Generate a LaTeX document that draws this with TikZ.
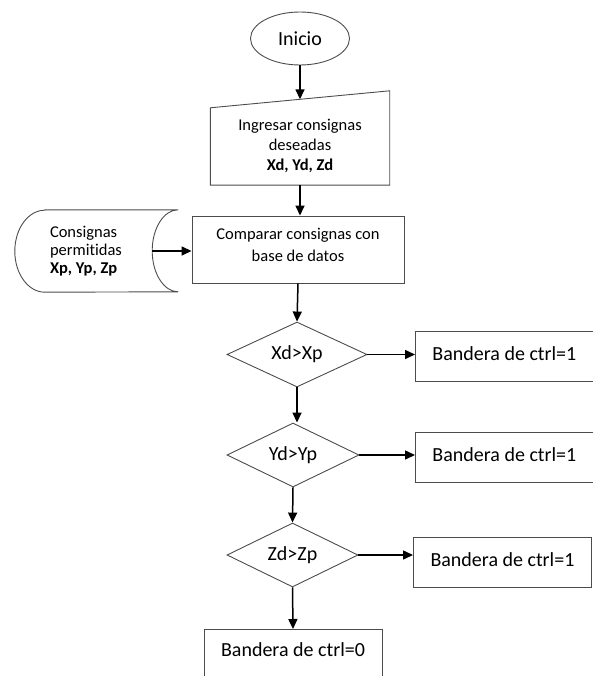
\documentclass[tikz,border=0pt]{standalone}
\usepackage{fontspec}
\setmainfont{Carlito}[Ligatures=NoCommon]
\usetikzlibrary{shapes.geometric,arrows.meta}

\begin{document}
\begin{tikzpicture}[
    x=1pt, y=-1pt,
    outline/.style={draw=black!70, line width=0.9pt},
    process/.style={rectangle, outline, inner sep=0pt, align=center, font=\fontsize{16.5}{22.5}\selectfont},
    decision/.style={diamond, outline, inner sep=0pt, aspect=2.2, font=\fontsize{20}{24}\selectfont},
    flag/.style={rectangle, outline, minimum height=50pt, text height=14pt, text depth=6pt, font=\fontsize{20}{24}\selectfont},
    arrow/.style={-{Triangle[length=10pt,width=9pt]}, line width=1.5pt}
]
\useasboundingbox (0,0) rectangle (592,676);

% Inicio
\node[ellipse, outline, minimum width=99pt, minimum height=53pt, inner sep=0pt, font=\fontsize{20}{24}\selectfont] (inicio) at (300,38.5) {Inicio};

% Entrada manual de consignas
\node[minimum width=179pt, minimum height=78pt, inner sep=0pt, align=center, font=\fontsize{16.5}{20.3}\selectfont] (ingreso) at (300,146) {Ingresar consignas\\deseadas\\\textbf{Xd, Yd, Zd}};
\draw[outline] (ingreso.south west) -- (ingreso.south east) -- ([yshift=16pt]ingreso.north east) -- ([yshift=-1pt]ingreso.north west) -- cycle;

% Base de datos (consignas permitidas)
\node[minimum width=163pt, minimum height=82pt, inner xsep=35pt, inner ysep=0pt, text width=93pt, align=flush left, font=\fontsize{16.5}{18.3}\selectfont] (permitidas) at (96.5,251) {Consignas\\permitidas\\\textbf{Xp, Yp, Zp}};
\draw[outline] ([xshift=30pt]permitidas.north west) -- (permitidas.north east)
    arc[start angle=90, end angle=270, x radius=26pt, y radius=41pt]
    -- ([xshift=30pt]permitidas.south west)
    arc[start angle=270, end angle=90, x radius=30pt, y radius=41pt] -- cycle;

% Comparacion
\node[process, minimum width=212pt, minimum height=67pt, text height=35pt, text depth=10.6pt] (comparar) at (298,249.5) {Comparar consignas con\\base de datos};

% Decisiones
\node[decision, minimum width=140pt, minimum height=65pt] (dx) at (297,354.5) {Xd>Xp};
\node[decision, minimum width=132pt, minimum height=64pt] (dy) at (293,455) {Yd>Yp};
\node[decision, minimum width=131pt, minimum height=64pt] (dz) at (292.5,555) {Zd>Zp};

% Banderas
\node[flag, anchor=west, text width=156pt, inner xsep=17pt, align=flush left] (bx) at (415,356) {Bandera de ctrl=1};
\node[flag, anchor=west, text width=156pt, inner xsep=17pt, align=flush left] (by) at (415,457) {Bandera de ctrl=1};
\node[flag, anchor=west, minimum width=178pt] (bz) at (413,562) {Bandera de ctrl=1};
\node[flag, anchor=north, minimum width=178pt, inner ysep=13pt, text depth=20pt] (b0) at (293,629) {Bandera de ctrl=0};

% Flechas
\draw[arrow] (inicio.south) -- ([yshift=7.5pt]ingreso.north);
\draw[arrow] (ingreso.south) -- (ingreso.south |- comparar.north);
\draw[arrow] ([xshift=-26pt]permitidas.east) -- (permitidas.east -| comparar.west);
\draw[arrow] (comparar.south) -- (dx.north);
\draw[arrow] (dx.south) -- (dx.south |- dy.north);
\draw[arrow] (dy.south) -- (dz.north);
\draw[arrow] (dz.south) -- (b0.north);
\draw[arrow] (dx.east) -- (dx.east -| bx.west);
\draw[arrow] (dy.east) -- (dy.east -| by.west);
\draw[arrow] (dz.east) -- (dz.east -| bz.west);

\end{tikzpicture}
\end{document}
